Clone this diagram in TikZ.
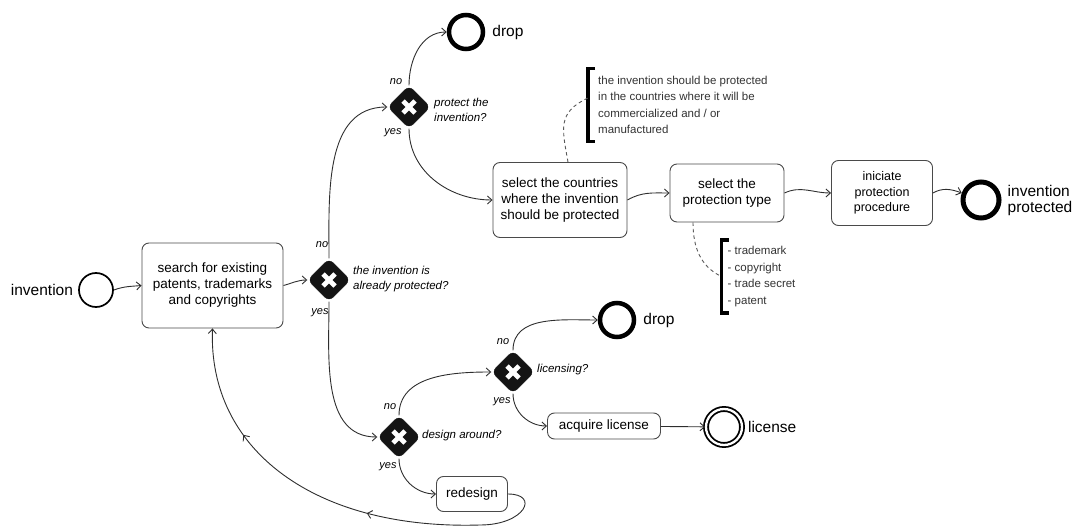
\documentclass[tikz,border=0pt]{standalone}
\usepackage{fontspec}
\setmainfont{Liberation Sans}
\usetikzlibrary{arrows.meta,positioning,shapes.geometric,decorations.markings}

\definecolor{linegray}{HTML}{2E2E2E}
\definecolor{boxgray}{HTML}{4A4A4A}
\definecolor{notegray}{HTML}{333333}

\begin{document}
\begin{tikzpicture}[
  x=1pt,y=1pt,
  >={Straight Barb[length=4.5pt,width=8pt]},
  task/.style={draw=boxgray,line width=0.9pt,rounded corners=7pt,fill=white,
    align=center,inner sep=2pt,text=black,
    font=\fontsize{13.5}{16}\selectfont},
  gate/.style={diamond,fill=black!92,draw=black!92,rounded corners=6pt,
    minimum size=43pt,inner sep=0pt,
    path picture={\draw[white,line width=4.8pt]
      ([shift={(-6pt,-6pt)}]path picture bounding box.center) --
      ([shift={(6pt,6pt)}]path picture bounding box.center)
      ([shift={(-6pt,6pt)}]path picture bounding box.center) --
      ([shift={(6pt,-6pt)}]path picture bounding box.center);}},
  startev/.style={circle,draw=black,line width=1.7pt,minimum size=34pt,inner sep=0pt},
  endev/.style={circle,draw=black,line width=4.5pt,minimum size=34pt,inner sep=0pt},
  licev/.style={circle,draw=black,line width=1.8pt,double=white,
    double distance=2.3pt,minimum size=36pt,inner sep=0pt},
  evlabel/.style={font=\fontsize{15.5}{16}\selectfont,align=left,inner sep=0pt,text=black},
  question/.style={font=\fontsize{11.5}{15.5}\selectfont\itshape,align=left,
    inner sep=0pt,text=black},
  answer/.style={font=\fontsize{11}{12}\selectfont\itshape,inner sep=0pt,text=black},
  note/.style={font=\fontsize{11.5}{16.5}\selectfont,align=left,text=notegray,
    inner xsep=8pt,inner ysep=0pt,minimum height=73pt},
  bracket/.style={line width=3.5pt,black},
  assoc/.style={draw=black!65,line width=0.9pt,dash pattern=on 3.5pt off 3pt},
  loopback/.style={draw=linegray,line width=0.9pt,->,postaction={decorate},
    decoration={markings,
      mark=at position 0.42 with {\arrow{>}},
      mark=at position 0.75 with {\arrow{>}}}},
  every edge/.style={draw=linegray,line width=0.9pt,->}
]
\useasboundingbox (0,0) rectangle (1078,-526);

% start and search
\node[startev] (start) at (96,-290) {};
\node[evlabel,left=5pt of start] (startlbl) {invention};
\node[task,minimum width=141pt,minimum height=85pt] (search) at (212.5,-285.5)
 {search for existing\\patents, trademarks\\and copyrights};

% already protected?
\node[gate] (g1) at (329,-280) {};
\node[question,anchor=west] (q1) at (353,-279) {the invention is\\already protected?};
\node[answer] (g1no) at (322,-245) {no};
\node[answer] (g1yes) at (320,-313) {yes};

% protect the invention?
\node[gate] (g2) at (409,-107) {};
\node[question,anchor=west] (q2) at (434,-110) {protect the\\invention?};
\node[answer] (g2no) at (396,-82) {no};
\node[answer] (g2yes) at (393,-133) {yes};
\node[endev] (drop1) at (466,-32) {};
\node[evlabel,right=7pt of drop1] (drop1lbl) {drop};

% protection path
\node[task,minimum width=134pt,minimum height=75pt] (countries) at (560,-200)
 {select the countries\\where the invention\\should be protected};
\node[task,minimum width=114pt,minimum height=58pt] (ptype) at (727,-193)
 {select the\\protection type};
\node[task,minimum width=101pt,minimum height=65pt,
  font=\fontsize{12.5}{15.5}\selectfont] (iniciate) at (882,-193)
 {iniciate\\protection\\procedure};
\node[endev,line width=5pt,minimum size=36pt] (done) at (981,-200) {};
\node[evlabel,right=6pt of done] (donelbl) {invention\\protected};

% notes
\node[note,anchor=west,inner xsep=10pt] (note1) at (588,-105)
 {the invention should be protected\\in the countries where it will be\\commercialized and / or\\manufactured};
\draw[bracket] ([xshift=7pt]note1.north west) -- (note1.north west)
  -- (note1.south west) -- ([xshift=7pt]note1.south west);
\node[note,anchor=west,inner xsep=6pt] (note2) at (721.5,-276.5)
 {- trademark\\- copyright\\- trade secret\\- patent};
\draw[bracket] ([xshift=7pt]note2.north west) -- (note2.north west)
  -- (note2.south west) -- ([xshift=7pt]note2.south west);

% design around? / licensing?
\node[gate] (g4) at (399,-437) {};
\node[question,anchor=west] (q4) at (422,-436) {design around?};
\node[answer] (g4no) at (390,-407) {no};
\node[answer] (g4yes) at (388,-467) {yes};
\node[gate] (g3) at (513,-372) {};
\node[question,anchor=west] (q3) at (537,-370) {licensing?};
\node[answer] (g3no) at (503,-342) {no};
\node[answer] (g3yes) at (502,-402) {yes};
\node[endev] (drop2) at (617,-320) {};
\node[evlabel,right=7pt of drop2] (drop2lbl) {drop};
\node[task,minimum width=113pt,minimum height=26pt] (acquire) at (604,-426) {acquire license};
\node[licev] (license) at (724,-427) {};
\node[evlabel,right=5pt of license] (licenselbl) {license};
\node[task,minimum width=71pt,minimum height=35pt] (redesign) at (472,-494) {redesign};

\path (start.east) edge[out=20,in=185] (search.west)
      (search.east) edge[out=15,in=180] (g1)
      (g1) edge[out=90,in=180] (g2)
      (g2) edge[out=90,in=180] (drop1)
      (g2) edge[out=-90,in=180] (countries.west)
      (countries.east) edge[out=30,in=180] (ptype.west)
      (ptype.east) edge[out=25,in=180] (iniciate.west)
      (iniciate.east) edge[out=30,in=160] (done)
      (g1) edge[out=-90,in=180] (g4)
      (g4) edge[out=90,in=180] (g3)
      (g3) edge[out=90,in=180] (drop2)
      (g3) edge[out=-90,in=180] (acquire.west)
      (acquire) edge (license)
      (g4) edge[out=-90,in=180] (redesign.west);

\draw[loopback] (redesign.east) .. controls (540,-494) and (525,-525) .. (480,-525)
  .. controls (315,-530) and (208,-450) .. (search.south);

\draw[assoc] ([xshift=8pt]countries.north) to[out=100,in=205,looseness=1.3] ([yshift=7pt]note1.west);
\draw[assoc] ([xshift=-34pt]ptype.south) to[out=-90,in=155] (note2.west);
\end{tikzpicture}
\end{document}
